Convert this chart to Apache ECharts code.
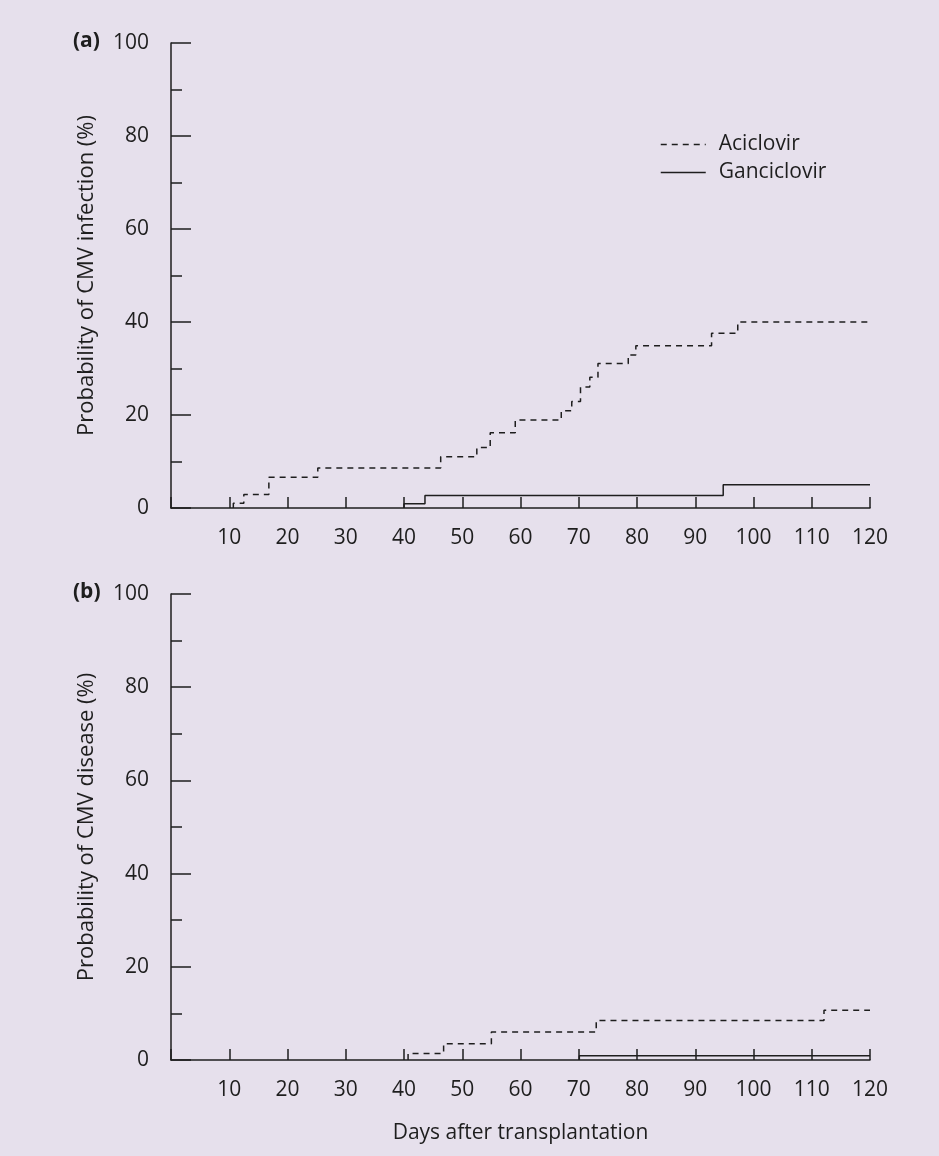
<!DOCTYPE html>
<html>
<head>
<meta charset="utf-8">
<script src="https://cdn.jsdelivr.net/npm/echarts@6/dist/echarts.min.js"></script>
<style>
  html, body { margin: 0; padding: 0; background: #e6e0ec; }
  #chart { width: 939px; height: 1156px; }
</style>
</head>
<body>
<div id="chart"></div>
<script>
// Kaplan-Meier step estimates: event day -> cumulative probability (%) after that day
const infAciclovirDays   = [10.7, 10.7, 12.5, 16.8, 25.2, 46.3, 52.5, 54.8, 59.1, 67.0, 68.8, 70.3, 71.9, 73.3, 78.5, 79.8, 92.8, 97.3, 120];
const infAciclovirProb   = [0,    1.0,  2.9,  6.6,  8.6,  11.0, 13.0, 16.2, 18.9, 20.9, 22.9, 26.0, 28.1, 31.1, 32.9, 34.9, 37.6, 40.0, 40.0];
const infGanciclovirDays = [40.0, 40.0, 43.6, 94.8, 120];
const infGanciclovirProb = [0,    0.9,  2.7,  5.0,  5.0];

const disAciclovirDays   = [40.7, 40.7, 46.8, 55.0, 73.0, 112.1, 120];
const disAciclovirProb   = [0,    1.4,  3.5,  6.0,  8.5,  10.7,  10.7];
const disGanciclovirDays = [70.1, 70.1, 120];
const disGanciclovirProb = [0,    0.9,  0.9];

const dayTicks  = [10, 20, 30, 40, 50, 60, 70, 80, 90, 100, 110, 120];
const probTicks = [0, 20, 40, 60, 80, 100];

const seriesNames = ['Aciclovir', 'Ganciclovir'];
const panelLabels = ['(a)', '(b)'];
const yTitles = ['Probability of CMV infection (%)', 'Probability of CMV disease (%)'];
const xTitle = 'Days after transplantation';

const FONT = '"Open Sans", "Noto Sans", sans-serif';
const INK = '#1e1e1e';

const pairs = (xs, ys) => xs.map((x, i) => [x, ys[i]]);

function xAxisFor(gridIndex, withTitle) {
  return {
    type: 'value', gridIndex, min: 0, max: 120, interval: 10,
    axisLine: { show: true, onZero: false, lineStyle: { color: INK, width: 1.5 } },
    axisTick: { show: true, inside: true, length: 11, lineStyle: { color: INK, width: 1.5 } },
    axisLabel: {
      margin: 20, color: INK, fontSize: 21, fontFamily: FONT,
      formatter: v => (dayTicks.indexOf(v) >= 0 ? String(v) : '')
    },
    splitLine: { show: false },
    name: withTitle ? xTitle : '',
    nameLocation: 'middle', nameGap: 63,
    nameTextStyle: { color: INK, fontSize: 21, fontFamily: FONT }
  };
}

function yAxisFor(gridIndex, title) {
  return {
    type: 'value', gridIndex, min: 0, max: 100, interval: 20,
    axisLine: { show: true, lineStyle: { color: INK, width: 1.5 } },
    axisTick: { show: true, inside: true, length: 20, lineStyle: { color: INK, width: 1.5 } },
    minorTick: { show: true, splitNumber: 2, length: 11, lineStyle: { color: INK, width: 1.5 } },
    axisLabel: {
      margin: 22, color: INK, fontSize: 21, fontFamily: FONT,
      formatter: v => (probTicks.indexOf(v) >= 0 ? String(v) : '')
    },
    splitLine: { show: false },
    name: title, nameLocation: 'middle', nameRotate: 90, nameGap: 73,
    nameTextStyle: { color: INK, fontSize: 22, fontFamily: FONT }
  };
}

function stepSeries(name, idx, data, dashed) {
  return {
    name, type: 'line', xAxisIndex: idx, yAxisIndex: idx,
    step: 'end', showSymbol: false, symbol: 'none', silent: true,
    itemStyle: { color: INK },
    lineStyle: { color: INK, width: 1.5, type: dashed ? [6, 5] : 'solid' },
    data
  };
}

const chart = echarts.init(document.getElementById('chart'), null, { renderer: 'canvas' });
chart.setOption({
  backgroundColor: '#e6e0ec',
  animation: false,
  grid: [
    { left: 171, top: 43, width: 699, height: 465 },
    { left: 171, top: 594, width: 699, height: 466 }
  ],
  xAxis: [xAxisFor(0, false), xAxisFor(1, true)],
  yAxis: [yAxisFor(0, yTitles[0]), yAxisFor(1, yTitles[1])],
  legend: {
    data: seriesNames, orient: 'vertical', left: 655, top: 129,
    itemWidth: 45, itemHeight: 14, itemGap: 7,
    itemStyle: { opacity: 0 },
    lineStyle: { width: 1.5 },
    textStyle: { color: INK, fontSize: 21, fontFamily: FONT, padding: [0, 0, 0, 8] },
    selectedMode: false
  },
  graphic: [
    { type: 'text', left: 73, top: 31, style: { text: panelLabels[0], fill: INK, font: 'bold 21px ' + FONT } },
    { type: 'text', left: 73, top: 582, style: { text: panelLabels[1], fill: INK, font: 'bold 21px ' + FONT } }
  ],
  series: [
    stepSeries(seriesNames[0], 0, pairs(infAciclovirDays, infAciclovirProb), true),
    stepSeries(seriesNames[1], 0, pairs(infGanciclovirDays, infGanciclovirProb), false),
    stepSeries(seriesNames[0], 1, pairs(disAciclovirDays, disAciclovirProb), true),
    stepSeries(seriesNames[1], 1, pairs(disGanciclovirDays, disGanciclovirProb), false)
  ]
});
</script>
</body>
</html>
